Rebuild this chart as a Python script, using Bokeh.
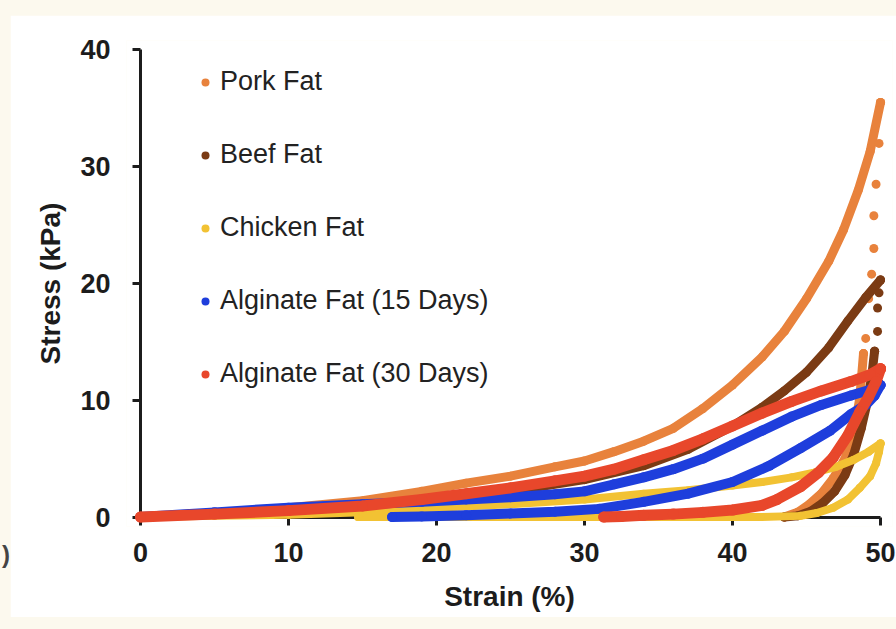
from bokeh.plotting import figure
from bokeh.models import (Range1d, FixedTicker, LinearAxis, Legend, LegendItem, Div)
from bokeh.layouts import row
from bokeh.embed import file_html
from bokeh.resources import INLINE

# Compression hysteresis loops: stress (kPa) vs strain (%), loading then unloading

PORK_LOAD_STRAIN = [0, 5, 10, 15, 19, 22, 25, 28, 30, 32, 34, 36, 38, 40, 42, 43.5, 45, 46.5, 47.5, 48.5, 49.3, 50]
PORK_LOAD_STRESS = [0, 0.35, 0.8, 1.4, 2.2, 2.9, 3.5, 4.3, 4.8, 5.6, 6.5, 7.6, 9.3, 11.3, 13.7, 15.9, 18.7, 21.9, 24.6, 28.0, 31.3, 35.5]
PORK_DROP_STRAIN = [50, 49.9, 49.7, 49.55, 49.55, 49.4, 49.2, 49.0, 48.85]
PORK_DROP_STRESS = [35.5, 32.0, 28.5, 25.8, 23.0, 20.8, 18.7, 15.3, 14.0]
PORK_UNLOAD_STRAIN = [48.85, 48.6, 48.2, 47.6, 46.8, 46.0, 45.2, 44.4, 43.5]
PORK_UNLOAD_STRESS = [14.0, 10.2, 7.2, 5.0, 3.3, 2.0, 1.1, 0.4, 0.0]

BEEF_LOAD_STRAIN = [0, 5, 10, 15, 20, 25, 30, 34, 37, 40, 42, 43.5, 45, 46.5, 47.8, 49, 50]
BEEF_LOAD_STRESS = [0, 0.3, 0.6, 1.0, 1.5, 2.2, 3.2, 4.4, 5.8, 7.8, 9.4, 10.8, 12.4, 14.5, 16.8, 18.8, 20.3]
BEEF_DROP_STRAIN = [50, 49.9, 49.8, 49.8, 49.6]
BEEF_DROP_STRESS = [20.3, 19.2, 17.9, 15.9, 14.2]
BEEF_UNLOAD_STRAIN = [49.6, 49.4, 49.1, 48.7, 48.2, 47.6, 46.9, 46.1, 45.3, 44.4, 43.5]
BEEF_UNLOAD_STRESS = [14.2, 12.0, 9.8, 7.6, 5.4, 3.6, 2.2, 1.2, 0.5, 0.1, 0.0]

CHICKEN_LOAD_STRAIN = [0, 5, 10, 15, 20, 25, 30, 34, 37, 40, 42, 44, 45.5, 47, 48.2, 49.2, 50]
CHICKEN_LOAD_STRESS = [0, 0.1, 0.2, 0.4, 0.8, 1.1, 1.5, 2.0, 2.3, 2.7, 3.0, 3.4, 3.8, 4.3, 4.9, 5.6, 6.3]
CHICKEN_UNLOAD_STRAIN = [50, 49.9, 49.7, 49.3, 48.6, 47.8, 46.8, 45.7, 44.6, 41.9, 30, 14.7]
CHICKEN_UNLOAD_STRESS = [6.3, 5.6, 4.6, 3.5, 2.5, 1.5, 0.8, 0.35, 0.1, 0.0, 0.0, 0.0]

ALG15_LOAD_STRAIN = [0, 5, 10, 15, 19, 22, 25, 28, 30, 32, 34, 36, 38, 40, 42, 44, 46, 48, 49.3, 50]
ALG15_LOAD_STRESS = [0, 0.4, 0.8, 1.1, 1.3, 1.5, 1.7, 1.95, 2.2, 2.8, 3.4, 4.1, 5.0, 6.2, 7.4, 8.6, 9.6, 10.4, 10.9, 11.3]
ALG15_UNLOAD_STRAIN = [50, 49.6, 49.0, 48.0, 46.6, 44.6, 42.5, 40, 37, 34, 31, 28, 25, 22, 19, 17]
ALG15_UNLOAD_STRESS = [11.3, 10.4, 9.6, 8.8, 7.4, 5.9, 4.4, 3.0, 2.0, 1.3, 0.7, 0.45, 0.3, 0.15, 0.05, 0.0]

ALG30_LOAD_STRAIN = [0, 5, 10, 15, 19, 22, 25, 28, 30, 32, 34, 36, 38, 40, 42, 44, 46, 48, 49.3, 50]
ALG30_LOAD_STRESS = [0, 0.25, 0.55, 0.95, 1.5, 2.0, 2.5, 3.1, 3.5, 4.1, 4.9, 5.7, 6.7, 7.8, 8.9, 9.9, 10.8, 11.6, 12.2, 12.7]
ALG30_UNLOAD_STRAIN = [50, 49.7, 49.2, 48.6, 47.8, 46.8, 45.8, 44.6, 43, 42, 40, 38, 36, 34, 32.5, 31.3]
ALG30_UNLOAD_STRESS = [12.7, 11.6, 10.3, 9.0, 7.0, 5.1, 3.8, 2.6, 1.5, 1.0, 0.6, 0.4, 0.25, 0.15, 0.05, 0.0]

SERIES_NAMES = ["Pork Fat", "Beef Fat", "Chicken Fat", "Alginate Fat (15 Days)", "Alginate Fat (30 Days)"]
X_TICKS = [0, 10, 20, 30, 40, 50]
Y_TICKS = [0, 10, 20, 30, 40]

COLORS = {
    "Pork Fat": "#E8823C",
    "Beef Fat": "#7B3B14",
    "Chicken Fat": "#F2C233",
    "Alginate Fat (15 Days)": "#1E3EDC",
    "Alginate Fat (30 Days)": "#E8472B",
}
WIDTHS = {
    "Pork Fat": 9,
    "Beef Fat": 9,
    "Chicken Fat": 8,
    "Alginate Fat (15 Days)": 10,
    "Alginate Fat (30 Days)": 11,
}
CREAM = "#FCF9EE"
INK = "#1c1c1c"
FONT = "Liberation Sans"

p = figure(
    width=886, height=602,
    x_range=Range1d(-0.946, 50.81), y_range=Range1d(-0.81, 40.81),
    output_backend="svg", toolbar_location=None,
    min_border_left=116, min_border_right=4, min_border_top=25, min_border_bottom=91,
    background_fill_color="white", border_fill_color="white",
    outline_line_color=None,
)
p.margin = (15, 0, 12, 0)
p.grid.visible = False

# Axis lines and ticks crossing at the origin, drawn beneath the data
for ax, ticks in ((p.xaxis[0], X_TICKS), (p.yaxis[0], Y_TICKS)):
    ax.fixed_location = 0
    ax.level = "underlay"
    ax.ticker = FixedTicker(ticks=ticks)
    ax.axis_line_width = 3
    ax.axis_line_color = INK
    ax.major_tick_line_width = 3
    ax.major_tick_line_color = INK
    ax.major_tick_in = 0
    ax.major_tick_out = 8
    ax.minor_tick_line_color = None
    ax.major_label_text_color = None
p.xaxis[0].bounds = (0, 50)
p.yaxis[0].bounds = (0, 40)

# Tick numbers and axis titles on line-less axes at the panel edges
def label_axis(ticks, text, label_standoff, title_standoff):
    a = LinearAxis(ticker=FixedTicker(ticks=ticks), axis_label=text)
    a.axis_line_color = None
    a.major_tick_line_color = None
    a.minor_tick_line_color = None
    a.major_tick_out = 0
    a.major_tick_in = 0
    a.major_label_standoff = label_standoff
    a.major_label_text_font = FONT
    a.major_label_text_font_style = "bold"
    a.major_label_text_font_size = "27px"
    a.major_label_text_color = INK
    a.axis_label_standoff = title_standoff
    a.axis_label_text_font = FONT
    a.axis_label_text_font_style = "bold"
    a.axis_label_text_font_size = "28px"
    a.axis_label_text_color = INK
    return a

p.add_layout(label_axis(X_TICKS, "Strain (%)", 16, 16), "below")
p.add_layout(label_axis(Y_TICKS, "Stress (kPa)", 16, 11), "left")

series = {
    "Pork Fat": [(PORK_LOAD_STRAIN, PORK_LOAD_STRESS), (PORK_UNLOAD_STRAIN, PORK_UNLOAD_STRESS)],
    "Beef Fat": [(BEEF_LOAD_STRAIN, BEEF_LOAD_STRESS), (BEEF_UNLOAD_STRAIN, BEEF_UNLOAD_STRESS)],
    "Chicken Fat": [(CHICKEN_LOAD_STRAIN, CHICKEN_LOAD_STRESS), (CHICKEN_UNLOAD_STRAIN, CHICKEN_UNLOAD_STRESS)],
    "Alginate Fat (15 Days)": [(ALG15_LOAD_STRAIN, ALG15_LOAD_STRESS), (ALG15_UNLOAD_STRAIN, ALG15_UNLOAD_STRESS)],
    "Alginate Fat (30 Days)": [(ALG30_LOAD_STRAIN, ALG30_LOAD_STRESS), (ALG30_UNLOAD_STRAIN, ALG30_UNLOAD_STRESS)],
}
drops = {
    "Pork Fat": (PORK_DROP_STRAIN, PORK_DROP_STRESS),
    "Beef Fat": (BEEF_DROP_STRAIN, BEEF_DROP_STRESS),
}

legend_items = []
for name in SERIES_NAMES:
    c = COLORS[name]
    w = WIDTHS[name]
    pts_x, pts_y = [], []
    for xs, ys in series[name]:
        p.line(xs, ys, line_color=c, line_width=w, line_cap="round", line_join="round")
        pts_x += xs
        pts_y += ys
    if name in drops:
        dx, dy = drops[name]
        pts_x += dx
        pts_y += dy
    r = p.scatter(pts_x, pts_y, size=w, marker="circle", fill_color=c, line_color=None)
    legend_items.append(LegendItem(label=name, renderers=[r]))

legend = Legend(
    items=legend_items, location=(69, 137),
    glyph_width=20, glyph_height=20, label_height=30, spacing=42,
    label_standoff=5, padding=0, margin=0,
    border_line_color=None, background_fill_alpha=0,
    label_text_font=FONT, label_text_font_size="27px", label_text_color="#222222",
)
p.add_layout(legend, "center")

# Narrow left strip holding the clipped closing bracket of a neighbouring panel
edge = Div(
    text=")", width=10, height=629, margin=(0, 0, 0, 0),
    styles={
        "overflow": "hidden",
        "box-sizing": "border-box",
        "padding-top": "538px",
        "text-align": "right",
        "font-family": FONT,
        "font-weight": "bold",
        "font-size": "24px",
        "color": "#444444",
        "white-space": "nowrap",
    },
)

layout = row(edge, p, spacing=0, styles={"background-color": CREAM})

with open("out.html", "w") as f:
    f.write(file_html(layout, INLINE))
